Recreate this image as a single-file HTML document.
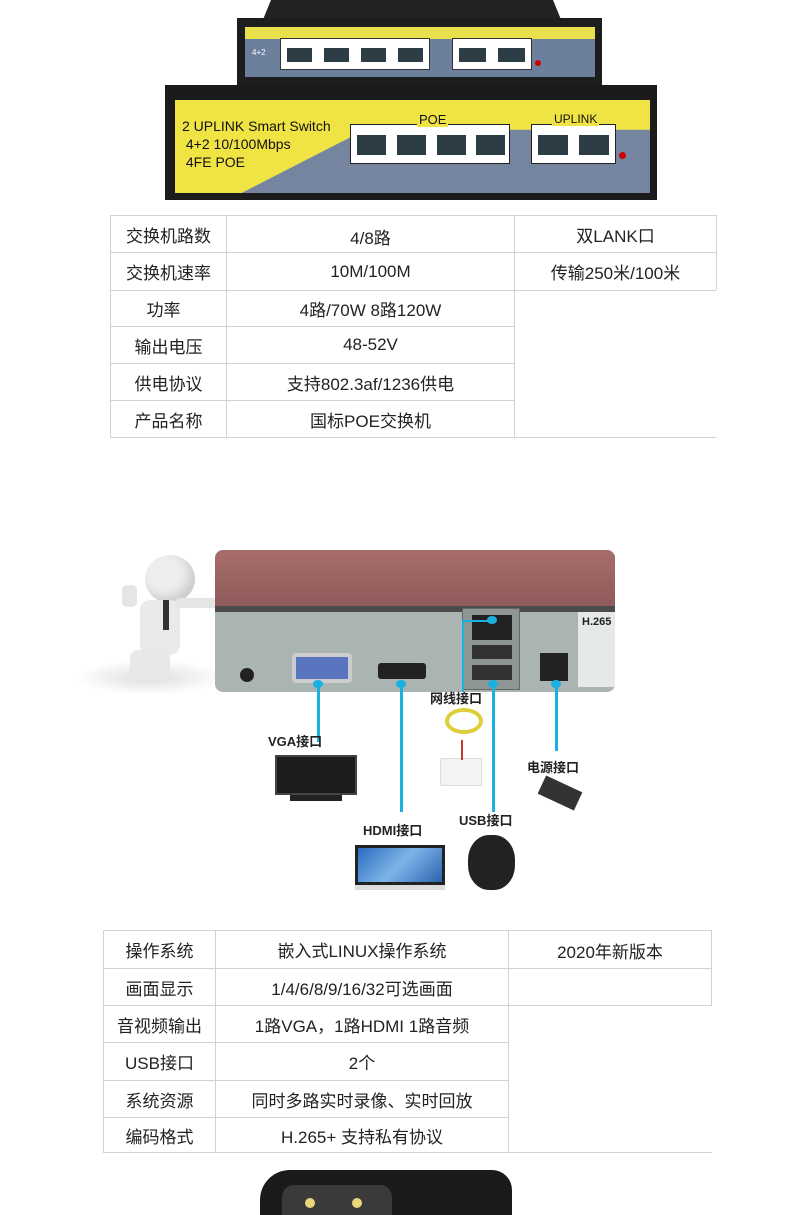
<!DOCTYPE html>
<html><head><meta charset="utf-8"><style>
*{margin:0;padding:0;box-sizing:border-box}
body{width:800px;height:1210px;background:#fff;position:relative;overflow:hidden;font-family:"Liberation Sans","Noto Sans CJK SC",sans-serif}
.a{position:absolute}
.t{position:absolute;border-collapse:collapse}
.cell{position:absolute;border:1px solid #cfd3d6;font-size:17px;color:#222;display:flex;align-items:center;justify-content:center;white-space:nowrap}
.port{position:absolute;background:#fff;border:2px solid #fff}
.port i{position:absolute;left:2px;top:3px;right:2px;bottom:3px;background:#2d3d45}
.cy{position:absolute;background:#1ab0e0;width:3px}
.dot{position:absolute;width:10px;height:8px;border-radius:50%;background:#1ab0e0}
.lbl{position:absolute;font-size:13px;font-weight:bold;color:#222;white-space:nowrap}
</style></head><body>

<!-- small switch -->
<div class="a" style="left:262px;top:0;width:300px;height:22px;background:#222;clip-path:polygon(3% 0,97% 0,100% 100%,0 100%)"></div>
<div class="a" style="left:237px;top:18px;width:365px;height:68px;background:#1d1d1d"></div>
<div class="a" style="left:245px;top:27px;width:350px;height:50px;background:#6c7f9c"></div>
<div class="a" style="left:245px;top:27px;width:350px;height:12px;background:#e9e04c"></div>
<div class="a" style="left:280px;top:38px;width:150px;height:32px;border:1px solid #333;background:#fff"></div>
<div class="port" style="left:283px;top:43px;width:33px;height:24px"><i></i></div>
<div class="port" style="left:320px;top:43px;width:33px;height:24px"><i></i></div>
<div class="port" style="left:357px;top:43px;width:33px;height:24px"><i></i></div>
<div class="port" style="left:394px;top:43px;width:33px;height:24px"><i></i></div>
<div class="a" style="left:452px;top:38px;width:80px;height:32px;border:1px solid #333;background:#fff"></div>
<div class="port" style="left:455px;top:43px;width:35px;height:24px"><i></i></div>
<div class="port" style="left:494px;top:43px;width:35px;height:24px"><i></i></div>
<div class="a" style="left:535px;top:60px;width:6px;height:6px;border-radius:50%;background:#c00"></div>
<div class="a" style="left:252px;top:48px;font-size:8px;color:#fff">4+2</div>

<!-- big switch -->
<div class="a" style="left:165px;top:85px;width:492px;height:115px;background:#1b1b1b"></div>
<div class="a" style="left:175px;top:100px;width:475px;height:93px;background:#7585a0"></div>
<div class="a" style="left:175px;top:100px;width:475px;height:93px;background:#f0e445;clip-path:polygon(0 0,100% 0,100% 32%,40% 32%,14% 100%,0 100%)"></div>
<div class="a" style="left:182px;top:117px;font-size:14px;color:#111;line-height:18px">2 UPLINK Smart Switch<br>&nbsp;4+2 10/100Mbps<br>&nbsp;4FE POE</div>
<div class="a" style="left:350px;top:124px;width:160px;height:40px;border:1px solid #222;background:#fff"></div>
<div class="a" style="left:417px;top:112px;font-size:13px;color:#111;background:#f0e445;padding:0 2px">POE</div>
<div class="port" style="left:353px;top:130px;width:37px;height:30px"><i></i></div>
<div class="port" style="left:393px;top:130px;width:37px;height:30px"><i></i></div>
<div class="port" style="left:433px;top:130px;width:37px;height:30px"><i></i></div>
<div class="port" style="left:472px;top:130px;width:37px;height:30px"><i></i></div>
<div class="a" style="left:531px;top:124px;width:85px;height:40px;border:1px solid #222;background:#fff"></div>
<div class="a" style="left:552px;top:112px;font-size:12px;color:#111;background:#f0e445;padding:0 2px">UPLINK</div>
<div class="port" style="left:534px;top:130px;width:38px;height:30px"><i></i></div>
<div class="port" style="left:575px;top:130px;width:38px;height:30px"><i></i></div>
<div class="a" style="left:619px;top:152px;width:7px;height:7px;border-radius:50%;background:#c00"></div>

<!-- table 1 -->
<div class="cell" style="left:110px;top:215px;width:117px;height:38px">交换机路数</div>
<div class="cell" style="left:226px;top:215px;width:289px;height:38px;align-items:flex-start;padding-top:8px">4/8路</div>
<div class="cell" style="left:514px;top:215px;width:203px;height:38px">双LANK口</div>
<div class="cell" style="left:110px;top:252px;width:117px;height:39px">交换机速率</div>
<div class="cell" style="left:226px;top:252px;width:289px;height:39px">10M/100M</div>
<div class="cell" style="left:514px;top:252px;width:203px;height:39px;align-items:flex-start;padding-top:6px">传输250米/100米</div>
<div class="cell" style="left:110px;top:290px;width:117px;height:37px;padding-right:10px">功率</div>
<div class="cell" style="left:226px;top:290px;width:289px;height:37px">4路/70W 8路120W</div>
<div class="cell" style="left:110px;top:326px;width:117px;height:38px">输出电压</div>
<div class="cell" style="left:226px;top:326px;width:289px;height:38px">48-52V</div>
<div class="cell" style="left:110px;top:363px;width:117px;height:38px">供电协议</div>
<div class="cell" style="left:226px;top:363px;width:289px;height:38px">支持802.3af/1236供电</div>
<div class="cell" style="left:110px;top:400px;width:117px;height:38px">产品名称</div>
<div class="cell" style="left:226px;top:400px;width:289px;height:38px">国标POE交换机</div>
<div class="a" style="left:514px;top:290px;width:203px;height:148px;border-right:1px solid #fff;border-bottom:1px solid #cfd3d6"></div>

<!-- NVR -->
<div class="a" style="left:75px;top:660px;width:150px;height:35px;background:radial-gradient(ellipse at 50% 50%,#ddd,#fff 70%)"></div>
<div class="a" style="left:145px;top:555px;width:50px;height:48px;border-radius:50%;background:#eee;box-shadow:inset -6px -6px 10px #ccc"></div>
<div class="a" style="left:140px;top:600px;width:40px;height:55px;border-radius:10px;background:#eaeaea"></div>
<div class="a" style="left:163px;top:600px;width:6px;height:30px;background:#333"></div>
<div class="a" style="left:175px;top:598px;width:55px;height:10px;border-radius:5px;background:#e5e5e5"></div>
<div class="a" style="left:122px;top:585px;width:15px;height:22px;border-radius:5px;background:#e5e5e5"></div>
<div class="a" style="left:130px;top:650px;width:40px;height:30px;background:#e8e8e8;border-radius:8px"></div>
<div class="a" style="left:215px;top:550px;width:400px;height:142px;border-radius:8px;background:#a9b4b3;overflow:hidden">
<div class="a" style="left:0;top:0;width:400px;height:56px;background:linear-gradient(#a76d6b,#8f5b5a)"></div>
<div class="a" style="left:0;top:56px;width:400px;height:6px;background:#4b4b4b"></div>
</div>
<div class="a" style="left:462px;top:608px;width:58px;height:82px;background:#8e9695;border:1px solid #666"></div>
<div class="a" style="left:472px;top:615px;width:40px;height:25px;background:#222"></div>
<div class="a" style="left:472px;top:645px;width:40px;height:14px;background:#333"></div>
<div class="a" style="left:472px;top:665px;width:40px;height:15px;background:#333"></div>
<div class="a" style="left:540px;top:653px;width:28px;height:28px;background:#222"></div>
<div class="a" style="left:578px;top:612px;width:37px;height:75px;background:#e6e9ea"></div>
<div class="a" style="left:582px;top:616px;font-size:11px;font-weight:bold;color:#222">H.265</div>
<div class="a" style="left:292px;top:653px;width:60px;height:30px;border-radius:4px;background:#5a75c0;border:4px solid #ccc"></div>
<div class="a" style="left:378px;top:663px;width:48px;height:16px;background:#222;border-radius:3px"></div>
<div class="a" style="left:240px;top:668px;width:14px;height:14px;border-radius:50%;background:#222"></div>

<div class="cy" style="left:317px;top:686px;height:56px"></div><div class="dot" style="left:313px;top:680px"></div>
<div class="cy" style="left:400px;top:686px;height:126px"></div><div class="dot" style="left:396px;top:680px"></div>
<div class="cy" style="left:462px;top:620px;height:72px;width:2px"></div><div class="cy" style="left:462px;top:620px;height:2px;width:30px"></div><div class="dot" style="left:487px;top:616px"></div>
<div class="cy" style="left:492px;top:686px;height:126px"></div><div class="dot" style="left:488px;top:680px"></div>
<div class="cy" style="left:555px;top:686px;height:65px"></div><div class="dot" style="left:551px;top:680px"></div>

<div class="lbl" style="left:268px;top:731px">VGA接口</div>
<div class="lbl" style="left:430px;top:688px">网线接口</div>
<div class="lbl" style="left:527px;top:757px">电源接口</div>
<div class="lbl" style="left:363px;top:820px">HDMI接口</div>
<div class="lbl" style="left:459px;top:810px">USB接口</div>

<div class="a" style="left:275px;top:755px;width:82px;height:40px;background:#1c1c1c;border:2px solid #444"></div>
<div class="a" style="left:290px;top:795px;width:52px;height:6px;background:#222"></div>
<div class="a" style="left:445px;top:708px;width:38px;height:26px;border:4px solid #dccf3a;border-radius:50%"></div>
<div class="a" style="left:440px;top:758px;width:42px;height:28px;background:#f3f3f3;border:1px solid #ddd"></div>
<div class="a" style="left:461px;top:740px;width:2px;height:20px;background:#c33"></div>
<div class="a" style="left:355px;top:845px;width:90px;height:40px;background:linear-gradient(135deg,#2a6ec0,#7fb4e8,#2a62b0);border:3px solid #222"></div>
<div class="a" style="left:355px;top:885px;width:90px;height:5px;background:#ddd"></div>
<div class="a" style="left:468px;top:835px;width:47px;height:55px;border-radius:45%;background:#222"></div>
<div class="a" style="left:540px;top:783px;width:40px;height:20px;background:#333;transform:rotate(25deg)"></div>

<!-- table 2 -->
<div class="cell" style="left:103px;top:930px;width:113px;height:39px">操作系统</div>
<div class="cell" style="left:215px;top:930px;width:294px;height:39px">嵌入式LINUX操作系统</div>
<div class="cell" style="left:508px;top:930px;width:204px;height:39px;align-items:flex-start;padding-top:7px">2020年新版本</div>
<div class="cell" style="left:103px;top:968px;width:113px;height:38px">画面显示</div>
<div class="cell" style="left:215px;top:968px;width:294px;height:38px">1/4/6/8/9/16/32可选画面</div>
<div class="cell" style="left:508px;top:968px;width:204px;height:38px"></div>
<div class="cell" style="left:103px;top:1005px;width:113px;height:38px">音视频输出</div>
<div class="cell" style="left:215px;top:1005px;width:294px;height:38px">1路VGA，1路HDMI 1路音频</div>
<div class="cell" style="left:103px;top:1042px;width:113px;height:39px">USB接口</div>
<div class="cell" style="left:215px;top:1042px;width:294px;height:39px">2个</div>
<div class="cell" style="left:103px;top:1080px;width:113px;height:38px">系统资源</div>
<div class="cell" style="left:215px;top:1080px;width:294px;height:38px">同时多路实时录像、实时回放</div>
<div class="cell" style="left:103px;top:1117px;width:113px;height:36px">编码格式</div>
<div class="cell" style="left:215px;top:1117px;width:294px;height:36px">H.265+ 支持私有协议</div>
<div class="a" style="left:508px;top:1005px;width:204px;height:148px;border-bottom:1px solid #cfd3d6"></div>

<!-- camera -->
<div class="a" style="left:260px;top:1170px;width:252px;height:45px;background:#1a1a1a;border-radius:30px 20px 0 0"></div>
<div class="a" style="left:282px;top:1185px;width:110px;height:30px;background:#3a3a3a;border-radius:12px 12px 0 0"></div>
<div class="a" style="left:305px;top:1198px;width:10px;height:10px;border-radius:50%;background:#e8d87a"></div>
<div class="a" style="left:352px;top:1198px;width:10px;height:10px;border-radius:50%;background:#e8d87a"></div>
</body></html>
